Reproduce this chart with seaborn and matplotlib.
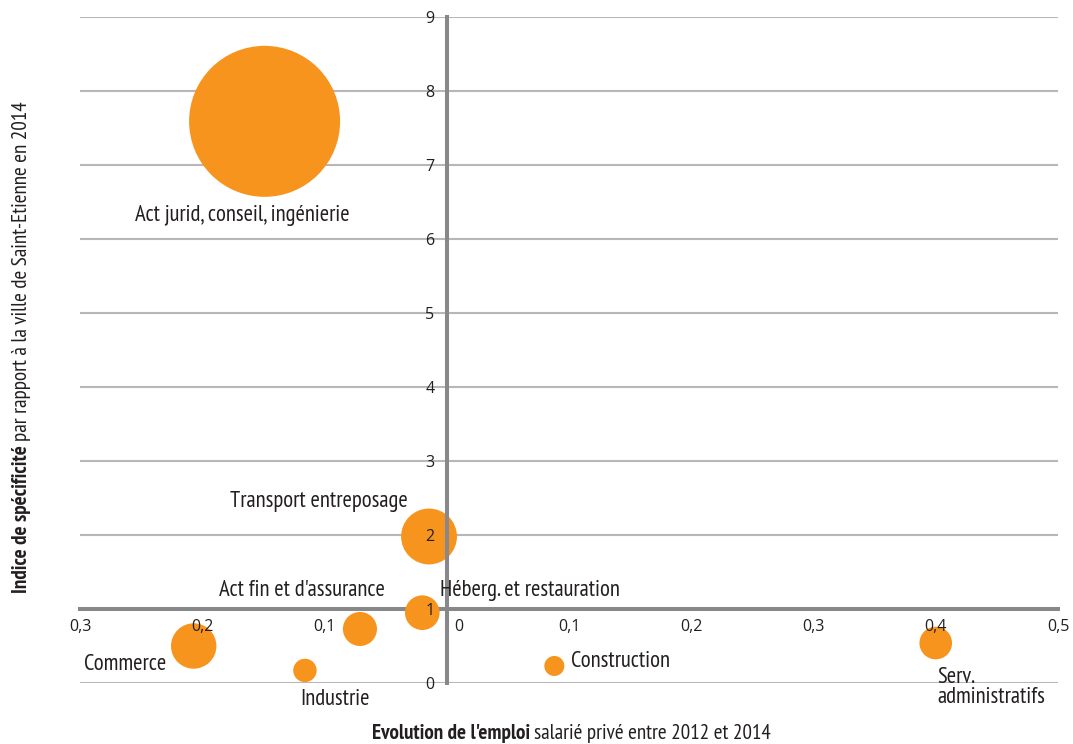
"""Bubble chart: spécificité vs évolution de l'emploi salarié privé."""

import matplotlib

matplotlib.use("Agg")
import matplotlib.pyplot as plt
import matplotlib.transforms as mtransforms
import pandas as pd
import seaborn as sns
from matplotlib.ticker import FixedLocator, FuncFormatter

# Data
secteurs = [
    "Act jurid, conseil, ingénierie",
    "Transport entreposage",
    "Héberg. et restauration",
    "Act fin et d'assurance",
    "Commerce",
    "Industrie",
    "Construction",
    "Serv.\nadministratifs",
]
evolution = [-0.149, -0.0145, -0.020, -0.071, -0.207, -0.116, 0.088, 0.400]
indice = [7.59, 1.98, 0.95, 0.73, 0.50, 0.17, 0.23, 0.54]
effectif = [5700, 780, 300, 290, 515, 137, 100, 266]  # bubble weight (area)

x_ticks = [-0.3, -0.2, -0.1, 0.0, 0.1, 0.2, 0.3, 0.4, 0.5]
y_ticks = [0, 1, 2, 3, 4, 5, 6, 7, 8, 9]

# label placement (offset in points from the bubble centre, alignment)
label_style = {
    "Act jurid, conseil, ingénierie": ((-16, -68), "center"),
    "Transport entreposage": ((-79, 25), "center"),
    "Héberg. et restauration": ((12.5, 16), "left"),
    "Act fin et d'assurance": ((-42, 28), "center"),
    "Commerce": ((-20, -13), "right"),
    "Industrie": ((22, -21), "center"),
    "Construction": ((12, 3), "left"),
    "Serv.\nadministratifs": ((1, -32), "left"),
}

ORANGE = "#F7941E"
AXIS_GREY = "#88888a"
GRID_GREY = "#b7b7b9"
TEXT = "#231f20"
NARROW = ["PT Sans Narrow", "Roboto Condensed", "Fira Sans Condensed",
          "Sofia Sans Condensed", "DejaVu Sans"]
REGULAR = ["Open Sans", "PT Sans", "DejaVu Sans"]

df = pd.DataFrame(
    {"secteur": secteurs, "evolution": evolution, "indice": indice, "effectif": effectif}
)

sns.set_theme(style="white")
plt.rcParams["font.family"] = NARROW

fig = plt.figure(figsize=(10.73, 7.44), dpi=100)
ax = fig.add_axes([80 / 1073, 61 / 744, 978 / 1073, 666 / 744])

for y in y_ticks:
    if y != 1:
        ax.axhline(y, color=GRID_GREY, lw=1.5, zorder=0.5)

# area proportional to effectif; largest bubble ~151 px across
s_max = (151 * 0.72) ** 2
sns.scatterplot(
    data=df,
    x="evolution",
    y="indice",
    size="effectif",
    sizes=(0, s_max),
    size_norm=(0, max(effectif)),
    color=ORANGE,
    linewidth=0,
    alpha=1,
    legend=False,
    ax=ax,
    zorder=2,
)

for sect, xv, yv in zip(secteurs, evolution, indice):
    (dx, dy), ha = label_style[sect]
    ax.annotate(
        sect,
        (xv, yv),
        xytext=(dx, dy),
        textcoords="offset points",
        ha=ha,
        va="center",
        fontsize=16.3,
        color=TEXT,
        linespacing=0.9,
        zorder=5,
    )

ax.set_xlim(-0.3, 0.5)
ax.set_ylim(0, 9)
ax.set_xlabel("")
ax.set_ylabel("")

for side in ["top", "right"]:
    ax.spines[side].set_visible(False)
ax.spines["bottom"].set_position(("data", 1))
ax.spines["left"].set_position(("data", 0))
ax.spines["bottom"].set_color(AXIS_GREY)
ax.spines["left"].set_color(AXIS_GREY)
ax.spines["bottom"].set_linewidth(2.9)
ax.spines["left"].set_linewidth(2.9)
ax.spines["bottom"].set_zorder(1)
ax.spines["left"].set_zorder(3)
ax.xaxis.set_zorder(4)
ax.yaxis.set_zorder(4)

ax.xaxis.set_major_locator(FixedLocator(x_ticks))
ax.yaxis.set_major_locator(FixedLocator(y_ticks))
ax.xaxis.set_major_formatter(
    FuncFormatter(lambda v, _: "0" if abs(v) < 1e-9 else f"{abs(v):.1f}".replace(".", ","))
)
ax.yaxis.set_major_formatter(FuncFormatter(lambda v, _: f"{v:.0f}"))
ax.tick_params(axis="both", length=0, labelsize=11.5, labelcolor=TEXT)
ax.tick_params(axis="x", pad=7)
ax.tick_params(axis="y", pad=9)
for lab in ax.get_xticklabels() + ax.get_yticklabels():
    lab.set_family(REGULAR)

# the "0" on the x axis sits just right of the vertical axis
zero_tick = ax.xaxis.get_major_ticks()[3]
zero_tick.label1.set_transform(
    zero_tick.label1.get_transform()
    + mtransforms.ScaledTranslation(12 / 100, 0, fig.dpi_scale_trans)
)

# axis titles: bold lead-in followed by regular text
fig.canvas.draw()
renderer = fig.canvas.get_renderer()
W, H = fig.bbox.width, fig.bbox.height

xb = fig.text(0, 0, "Evolution de l'emploi", weight="bold", fontsize=15.2, color=TEXT)
xr = fig.text(0, 0, "salarié privé entre 2012 et 2014", fontsize=15.2, color=TEXT)
wb = xb.get_window_extent(renderer).width
wr = xr.get_window_extent(renderer).width
gap = 4
x0 = 571 - (wb + gap + wr) / 2
xb.set_position((x0 / W, 5 / H))
xr.set_position(((x0 + wb + gap) / W, 5 / H))
xb.set_va("baseline")
xr.set_va("baseline")

yb = fig.text(0, 0, "Indice de spécificité", weight="bold", fontsize=15.2, color=TEXT)
yr = fig.text(0, 0, "par rapport à la ville de Saint-Etienne en 2014", fontsize=15.2, color=TEXT)
hb = yb.get_window_extent(renderer).width
hr = yr.get_window_extent(renderer).width
y0 = (744 - 347) - (hb + gap + hr) / 2
for t, pos in [(yb, y0), (yr, y0 + hb + gap)]:
    t.set_rotation(90)
    t.set_rotation_mode("anchor")
    t.set_ha("left")
    t.set_va("baseline")
    t.set_position((27 / W, pos / H))

fig.savefig("out.png", dpi=100)
